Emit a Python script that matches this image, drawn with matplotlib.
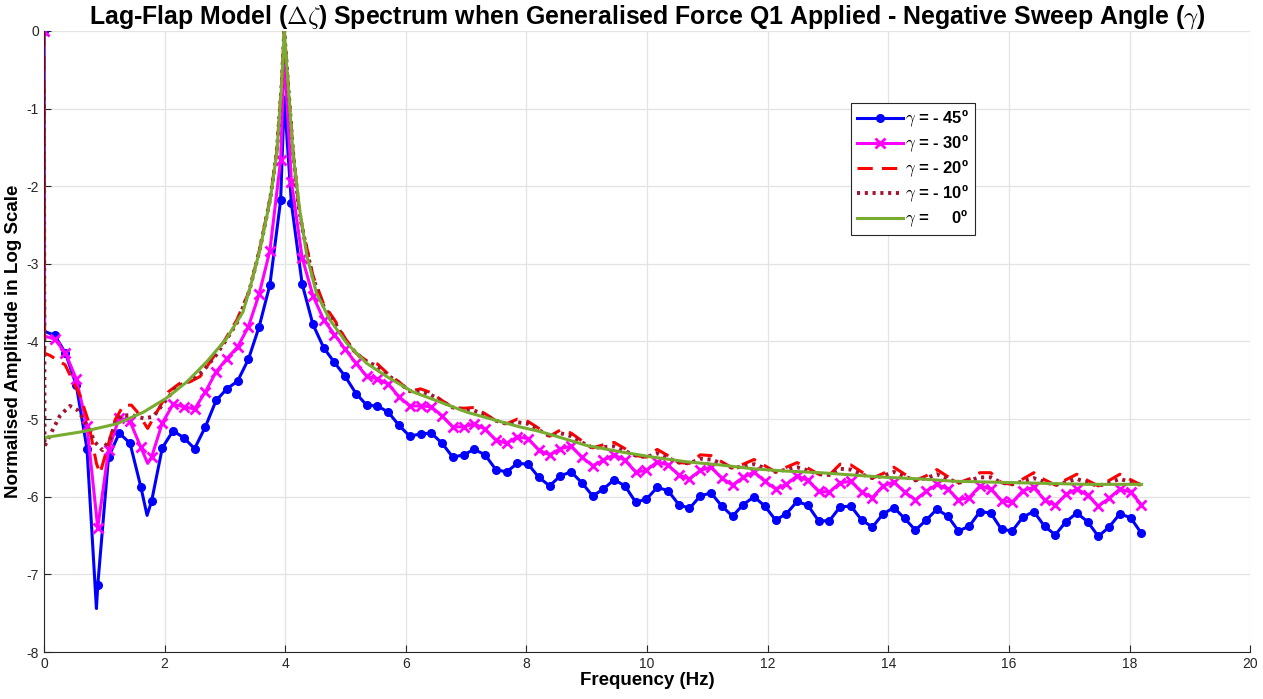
import numpy as np
import matplotlib.pyplot as plt

plt.rcParams['font.family'] = ['Liberation Sans', 'DejaVu Sans']
plt.rcParams['axes.unicode_minus'] = False
plt.rcParams['mathtext.fontset'] = 'cm'

# frequency bins of the spectrum (Hz)
freq_step = 0.1784
freq = np.arange(103) * freq_step

# gamma = -45 deg, value at every bin
amp_45 = [0.0, -3.92, -4.15, -4.56, -5.38, -7.14, -5.49, -5.18, -5.31, -5.87,
          -6.06, -5.37, -5.15, -5.24, -5.38, -5.10, -4.76, -4.61, -4.51, -4.23,
          -3.81, -3.27, -2.18, -2.22, -3.26, -3.78, -4.08, -4.27, -4.45, -4.67,
          -4.82, -4.83, -4.91, -5.08, -5.22, -5.19, -5.18, -5.31, -5.49, -5.46,
          -5.39, -5.46, -5.65, -5.68, -5.57, -5.58, -5.75, -5.86, -5.73, -5.68,
          -5.82, -5.99, -5.90, -5.78, -5.86, -6.07, -6.03, -5.88, -5.92, -6.10,
          -6.15, -5.99, -5.95, -6.12, -6.25, -6.10, -6.00, -6.12, -6.30, -6.22,
          -6.06, -6.11, -6.31, -6.31, -6.13, -6.12, -6.30, -6.39, -6.22, -6.14,
          -6.28, -6.43, -6.30, -6.16, -6.25, -6.44, -6.38, -6.19, -6.21, -6.42,
          -6.44, -6.26, -6.19, -6.38, -6.49, -6.32, -6.21, -6.32, -6.51, -6.39,
          -6.22, -6.27, -6.47]
# line points between bins (no marker)
extra_45_f = [0.01, 0.87, 1.71, 3.985]
extra_45_v = [-3.87, -7.44, -6.24, -0.85]

# gamma = -30 deg
amp_30 = [0.0, -3.97, -4.15, -4.48, -5.09, -6.40, -5.40, -4.98, -5.03, -5.36,
          -5.49, -5.05, -4.81, -4.84, -4.87, -4.65, -4.39, -4.22, -4.07, -3.81,
          -3.39, -2.83, -1.66, -1.94, -2.92, -3.41, -3.72, -3.91, -4.10, -4.28,
          -4.45, -4.48, -4.55, -4.71, -4.83, -4.83, -4.84, -4.96, -5.10, -5.10,
          -5.06, -5.13, -5.27, -5.31, -5.23, -5.25, -5.40, -5.46, -5.38, -5.35,
          -5.49, -5.60, -5.53, -5.46, -5.53, -5.68, -5.66, -5.55, -5.59, -5.72,
          -5.77, -5.66, -5.62, -5.76, -5.85, -5.75, -5.68, -5.80, -5.90, -5.84,
          -5.73, -5.79, -5.93, -5.94, -5.82, -5.80, -5.94, -6.01, -5.86, -5.81,
          -5.94, -6.04, -5.93, -5.84, -5.90, -6.04, -6.01, -5.86, -5.90, -6.05,
          -6.07, -5.92, -5.88, -6.04, -6.11, -5.97, -5.90, -5.98, -6.12, -6.02,
          -5.90, -5.94, -6.10]
extra_30_f = [0.01, 1.72, 3.985]
extra_30_v = [-3.93, -5.57, -0.30]

# gamma = -20 deg: low band read finely, then bins from 24 on
low_20_f = [0.0, 0.01, 0.10, 0.35, 0.60, 0.73, 0.87, 0.93, 1.04, 1.18, 1.32,
            1.45, 1.54, 1.72, 1.87, 2.06, 2.25, 2.42, 2.59, 2.81, 3.00, 3.20,
            3.40, 3.58, 3.75, 3.86, 3.94, 3.985, 4.05, 4.13, 4.22]
low_20_v = [0.0, -4.15, -4.18, -4.30, -4.70, -5.01, -5.57, -5.70, -5.40, -5.01,
            -4.82, -4.82, -4.90, -5.12, -4.91, -4.65, -4.54, -4.52, -4.45, -4.20,
            -3.98, -3.72, -3.36, -2.80, -2.16, -1.56, -0.70, 0.0, -0.70, -1.55,
            -2.22]
tail_20 = [-2.52, -3.15, -3.52, -3.72, -3.96, -4.15, -4.25, -4.29, -4.42, -4.52,
           -4.64, -4.61, -4.66, -4.76, -4.85, -4.86, -4.85, -4.93, -5.02, -5.06,
           -5.00, -5.03, -5.12, -5.22, -5.14, -5.18, -5.28, -5.37, -5.33, -5.30,
           -5.38, -5.47, -5.49, -5.39, -5.47, -5.56, -5.57, -5.46, -5.47, -5.55,
           -5.63, -5.58, -5.52, -5.60, -5.68, -5.62, -5.56, -5.63, -5.71, -5.72,
           -5.58, -5.59, -5.68, -5.76, -5.70, -5.62, -5.71, -5.79, -5.73, -5.65,
           -5.74, -5.82, -5.77, -5.69, -5.69, -5.82, -5.84, -5.77, -5.69, -5.78,
           -5.85, -5.78, -5.71, -5.79, -5.86, -5.79, -5.71, -5.78, -5.85]

# gamma = -10 deg
low_10_f = [0.0, 0.01, 0.13, 0.27, 0.43, 0.57, 0.71, 0.85, 0.97, 1.10, 1.18,
            1.29, 1.46, 1.65, 1.81, 1.98, 2.20, 2.45, 2.64, 2.85, 3.03, 3.20,
            3.40, 3.58, 3.75, 3.86, 3.94, 3.985, 4.05, 4.13, 4.22]
low_10_v = [-0.75, -5.35, -5.16, -4.95, -4.83, -4.89, -5.08, -5.30, -5.40, -5.25,
            -5.05, -4.95, -4.95, -4.99, -4.97, -4.80, -4.58, -4.50, -4.38, -4.18,
            -3.97, -3.76, -3.36, -2.81, -2.17, -1.57, -0.71, 0.0, -0.71, -1.56,
            -2.24]
tail_10 = [-2.54, -3.18, -3.55, -3.75, -3.98, -4.15, -4.26, -4.32, -4.44, -4.53,
           -4.64, -4.64, -4.69, -4.77, -4.85, -4.88, -4.89, -4.95, -5.02, -5.06,
           -5.04, -5.06, -5.14, -5.22, -5.18, -5.22, -5.30, -5.37, -5.36, -5.35,
           -5.41, -5.47, -5.49, -5.44, -5.50, -5.56, -5.57, -5.51, -5.52, -5.57,
           -5.63, -5.61, -5.58, -5.63, -5.68, -5.65, -5.62, -5.66, -5.71, -5.72,
           -5.64, -5.65, -5.71, -5.76, -5.73, -5.68, -5.74, -5.79, -5.76, -5.71,
           -5.77, -5.82, -5.79, -5.75, -5.75, -5.82, -5.84, -5.80, -5.76, -5.81,
           -5.85, -5.81, -5.77, -5.82, -5.86, -5.82, -5.77, -5.81, -5.85]

# gamma = 0 deg
freq_0 = [0.0, 0.65, 1.21, 1.65, 2.03, 2.37, 2.70, 3.03, 3.30, 3.42, 3.58, 3.75,
          3.86, 3.94, 3.985, 4.05, 4.13, 4.24, 4.36, 4.52, 4.74, 5.02, 5.35, 5.68,
          6.12, 6.57, 7.01, 7.56, 7.89, 8.23, 8.45, 9.0, 9.55, 10.10, 10.66, 11.21,
          11.76, 12.32, 12.87, 13.41, 13.97, 14.53, 15.08, 15.63, 16.18, 16.74,
          17.29, 18.2]
amp_0 = [-5.24, -5.16, -5.06, -4.91, -4.73, -4.52, -4.26, -3.96, -3.62, -3.30,
         -2.82, -2.18, -1.58, -0.72, 0.0, -0.72, -1.58, -2.30, -2.90, -3.38,
         -3.72, -4.02, -4.28, -4.45, -4.65, -4.78, -4.91, -5.03, -5.10, -5.16,
         -5.21, -5.34, -5.42, -5.49, -5.55, -5.59, -5.64, -5.67, -5.69, -5.72,
         -5.75, -5.77, -5.80, -5.81, -5.82, -5.83, -5.84, -5.84]

labels = [r'$\gamma$ = - 45º', r'$\gamma$ = - 30º', r'$\gamma$ = - 20º',
          r'$\gamma$ = - 10º', r'$\gamma$ =     0º']


def merge(f_main, v_main, f_extra, v_extra):
    f = np.concatenate([f_main, f_extra])
    v = np.concatenate([v_main, v_extra])
    order = np.argsort(f, kind='stable')
    marks = np.nonzero(order < len(f_main))[0]
    return f[order], v[order], list(marks)


f45, v45, m45 = merge(freq, amp_45, extra_45_f, extra_45_v)
f30, v30, m30 = merge(freq, amp_30, extra_30_f, extra_30_v)
f20 = np.concatenate([low_20_f, freq[24:]])
v20 = np.concatenate([low_20_v, tail_20])
f10 = np.concatenate([low_10_f, freq[24:]])
v10 = np.concatenate([low_10_v, tail_10])

fig = plt.figure(figsize=(12.63, 6.99), dpi=100)
ax = fig.add_axes([0.0348, 0.0672, 0.955, 0.8885])

ax.plot(f45, v45, '-', color='#0000ff', lw=2.2, marker='o', ms=5.5,
        markevery=m45, label=labels[0])
ax.plot(f30, v30, '-', color='#ff00ff', lw=2.2, marker='x', ms=7, mew=2,
        markevery=m30, label=labels[1])
ax.plot(f20, v20, '--', color='#ff0000', lw=2.2, dashes=(5, 3), label=labels[2])
ax.plot(f10, v10, ':', color='#a2142f', lw=2.8, dashes=(0.8, 1.2),
        label=labels[3])
ax.plot(freq_0, amp_0, '-', color='#77ac30', lw=2.2, label=labels[4])

ax.set_xlim(0, 20)
ax.set_ylim(-8, 0)
ax.set_xticks(np.arange(0, 21, 2))
ax.set_yticks(np.arange(-8, 1, 1))
ax.grid(True, color='#e3e3e3', lw=0.9)
ax.set_axisbelow(True)
for s in ['top', 'right']:
    ax.spines[s].set_visible(False)
for s in ['left', 'bottom']:
    ax.spines[s].set_color('#262626')
    ax.spines[s].set_linewidth(0.8)
ax.tick_params(direction='in', length=5, width=0.8, color='#262626',
               labelcolor='#262626', labelsize=10)

ax.set_xlabel('Frequency (Hz)', fontsize=13.5, fontweight='bold', labelpad=1)
ax.set_ylabel('Normalised Amplitude in Log Scale', fontsize=13.5,
              fontweight='bold', labelpad=3)
ax.set_title(r'Lag-Flap Model ($\Delta\zeta$) Spectrum when Generalised Force Q1 '
             r'Applied - Negative Sweep Angle ($\gamma$)',
             fontsize=17.9, fontweight='bold', pad=4)

leg = ax.legend(loc='upper left', bbox_to_anchor=(0.669, 0.884), fancybox=False,
                framealpha=1, edgecolor='#262626',
                prop={'weight': 'bold', 'size': 12}, handlelength=2.8,
                handletextpad=0.1, labelspacing=0.27, borderpad=0.35,
                borderaxespad=0)
leg.get_frame().set_linewidth(0.8)

fig.savefig('out.png', dpi=100)
